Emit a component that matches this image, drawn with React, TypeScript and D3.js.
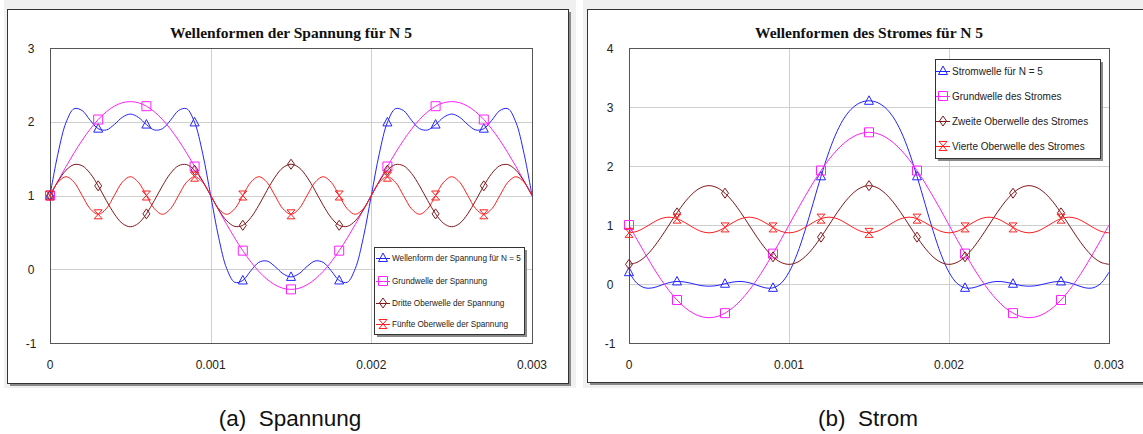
import * as d3 from 'd3';
import { useEffect, useRef } from 'react';

// sample spacing of the waveform tables (s) and how often a marker is drawn
const SAMPLE_STEP = 0.00005;
const MARKER_EVERY = 6;

const xTicks = [0, 0.001, 0.002, 0.003];
const xTickLabels = ['0', '0.001', '0.002', '0.003'];
const voltageYTicks = [-1, 0, 1, 2, 3];
const currentYTicks = [-1, 0, 1, 2, 3, 4];

// Spannung (voltage) waveforms
const voltageN5 = [
  1.000, 1.572, 1.991, 2.177, 2.152, 2.020, 1.906, 1.888, 1.962, 2.060, 2.104, 2.060, 1.962, 1.888, 1.906, 2.020, 2.152, 2.177, 1.991, 1.572, 1.000,
  0.428, 0.009, -0.177, -0.152, -0.020, 0.094, 0.112, 0.038, -0.060, -0.104, -0.060, 0.038, 0.112, 0.094, -0.020, -0.152, -0.177, 0.009, 0.428, 1.000,
  1.572, 1.991, 2.177, 2.152, 2.020, 1.906, 1.888, 1.962, 2.060, 2.104, 2.060, 1.962, 1.888, 1.906, 2.020, 2.152, 2.177, 1.991, 1.572, 1.000,
];
const voltageFund = [
  1.000, 1.199, 1.393, 1.578, 1.748, 1.900, 2.030, 2.134, 2.211, 2.258, 2.273, 2.258, 2.211, 2.134, 2.030, 1.900, 1.748, 1.578, 1.393, 1.199, 1.000,
  0.801, 0.607, 0.422, 0.252, 0.100, -0.030, -0.134, -0.211, -0.258, -0.273, -0.258, -0.211, -0.134, -0.030, 0.100, 0.252, 0.422, 0.607, 0.801, 1.000,
  1.199, 1.393, 1.578, 1.748, 1.900, 2.030, 2.134, 2.211, 2.258, 2.273, 2.258, 2.211, 2.134, 2.030, 1.900, 1.748, 1.578, 1.393, 1.199, 1.000,
];
const voltageThird = [
  1.000, 1.193, 1.343, 1.419, 1.404, 1.300, 1.131, 0.934, 0.751, 0.622, 0.576, 0.622, 0.751, 0.934, 1.131, 1.300, 1.404, 1.419, 1.343, 1.193, 1.000,
  0.807, 0.657, 0.581, 0.596, 0.700, 0.869, 1.066, 1.249, 1.378, 1.424, 1.378, 1.249, 1.066, 0.869, 0.700, 0.596, 0.581, 0.657, 0.807, 1.000,
  1.193, 1.343, 1.419, 1.404, 1.300, 1.131, 0.934, 0.751, 0.622, 0.576, 0.622, 0.751, 0.934, 1.131, 1.300, 1.404, 1.419, 1.343, 1.193, 1.000,
];
const voltageFifth = [
  1.000, 1.180, 1.255, 1.180, 1.000, 0.820, 0.745, 0.820,
  1.000, 1.180, 1.255, 1.180, 1.000, 0.820, 0.745, 0.820,
  1.000, 1.180, 1.255, 1.180, 1.000, 0.820, 0.745, 0.820,
  1.000, 1.180, 1.255, 1.180, 1.000, 0.820, 0.745, 0.820,
  1.000, 1.180, 1.255, 1.180, 1.000, 0.820, 0.745, 0.820,
  1.000, 1.180, 1.255, 1.180, 1.000, 0.820, 0.745, 0.820,
  1.000, 1.180, 1.255, 1.180, 1.000, 0.820, 0.745, 0.820,
  1.000, 1.180, 1.255, 1.180, 1.000,
];

// Strom (current) waveforms
const currentN5 = [
  0.200, 0.012, -0.065, -0.064, -0.021, 0.022, 0.043, 0.033, 0.004, -0.026, -0.037, -0.026, 0.004, 0.033, 0.043, 0.022, -0.021, -0.064, -0.065, 0.012, 0.200,
  0.504, 0.905, 1.362, 1.825, 2.244, 2.585, 2.833, 2.992, 3.078, 3.105, 3.078, 2.992, 2.833, 2.585, 2.244, 1.825, 1.362, 0.905, 0.504, 0.200,
  0.012, -0.065, -0.064, -0.021, 0.022, 0.043, 0.033, 0.004, -0.026, -0.037, -0.026, 0.004, 0.033, 0.043, 0.022, -0.021, -0.064, -0.065, 0.012, 0.200,
];
const currentFund = [
  1.000, 0.754, 0.515, 0.287, 0.077, -0.111, -0.271, -0.400, -0.494, -0.552, -0.571, -0.552, -0.494, -0.400, -0.271, -0.111, 0.077, 0.287, 0.515, 0.754, 1.000,
  1.246, 1.485, 1.713, 1.923, 2.111, 2.271, 2.400, 2.494, 2.552, 2.571, 2.552, 2.494, 2.400, 2.271, 2.111, 1.923, 1.713, 1.485, 1.246, 1.000,
  0.754, 0.515, 0.287, 0.077, -0.111, -0.271, -0.400, -0.494, -0.552, -0.571, -0.552, -0.494, -0.400, -0.271, -0.111, 0.077, 0.287, 0.515, 0.754, 1.000,
];
const currentSecond = [
  0.333, 0.366, 0.461, 0.608, 0.794, 1.000, 1.206, 1.392, 1.539, 1.634, 1.667, 1.634, 1.539, 1.392, 1.206, 1.000, 0.794, 0.608, 0.461, 0.366,
  0.333, 0.366, 0.461, 0.608, 0.794, 1.000, 1.206, 1.392, 1.539, 1.634, 1.667, 1.634, 1.539, 1.392, 1.206, 1.000, 0.794, 0.608, 0.461, 0.366,
  0.333, 0.366, 0.461, 0.608, 0.794, 1.000, 1.206, 1.392, 1.539, 1.634, 1.667, 1.634, 1.539, 1.392, 1.206, 1.000, 0.794, 0.608, 0.461, 0.366,
  0.333,
];
const currentFourth = [
  0.867, 0.892, 0.959, 1.041, 1.108, 1.133, 1.108, 1.041, 0.959, 0.892,
  0.867, 0.892, 0.959, 1.041, 1.108, 1.133, 1.108, 1.041, 0.959, 0.892,
  0.867, 0.892, 0.959, 1.041, 1.108, 1.133, 1.108, 1.041, 0.959, 0.892,
  0.867, 0.892, 0.959, 1.041, 1.108, 1.133, 1.108, 1.041, 0.959, 0.892,
  0.867, 0.892, 0.959, 1.041, 1.108, 1.133, 1.108, 1.041, 0.959, 0.892,
  0.867, 0.892, 0.959, 1.041, 1.108, 1.133, 1.108, 1.041, 0.959, 0.892,
  0.867,
];

const BLUE = '#2424ff';
const MAGENTA = '#ff22ff';
const BROWN = '#84181c';
const RED = '#ff2020';

const panels = [
  {
    title: 'Wellenformen der Spannung für N 5',
    caption: '(a)  Spannung',
    captionX: 290,
    bg: { x: 4, w: 572 },
    frame: { x: 7, y: 9, w: 561, h: 374 },
    plot: { x0: 50, x1: 532, y0: 48, y1: 343 },
    yTicks: voltageYTicks,
    legend: { x: 374, y: 247, w: 150, h: 87, rows: [258, 281, 303, 324], fontSize: 8.2, markerX: 9 },
    series: [
      { name: 'Wellenform der Spannung für N = 5', values: voltageN5, color: BLUE, marker: 'triangle' },
      { name: 'Grundwelle der Spannung', values: voltageFund, color: MAGENTA, marker: 'square' },
      { name: 'Dritte Oberwelle der Spannung', values: voltageThird, color: BROWN, marker: 'diamond' },
      { name: 'Fünfte Oberwelle der Spannung', values: voltageFifth, color: RED, marker: 'hourglass' },
    ],
  },
  {
    title: 'Wellenformen des Stromes für N 5',
    caption: '(b)  Strom',
    captionX: 868,
    bg: { x: 583, w: 570 },
    frame: { x: 587, y: 9, w: 570, h: 373 },
    plot: { x0: 629, x1: 1109, y0: 48, y1: 343 },
    yTicks: currentYTicks,
    legend: { x: 935, y: 59, w: 165, h: 99, rows: [71, 96, 121, 146], fontSize: 10, markerX: 8 },
    series: [
      { name: 'Stromwelle für N = 5', values: currentN5, color: BLUE, marker: 'triangle' },
      { name: 'Grundwelle des Stromes', values: currentFund, color: MAGENTA, marker: 'square' },
      { name: 'Zweite Oberwelle des Stromes', values: currentSecond, color: BROWN, marker: 'diamond' },
      { name: 'Vierte Oberwelle des Stromes', values: currentFourth, color: RED, marker: 'hourglass' },
    ],
  },
];

const markerPath = (type, cx, cy) => {
  const p = d3.path();
  if (type === 'triangle') {
    p.moveTo(cx, cy - 5); p.lineTo(cx + 4.5, cy + 3.5); p.lineTo(cx - 4.5, cy + 3.5); p.closePath();
  } else if (type === 'square') {
    p.rect(cx - 4.5, cy - 4.5, 9, 9);
  } else if (type === 'diamond') {
    p.moveTo(cx, cy - 5); p.lineTo(cx + 3.5, cy); p.lineTo(cx, cy + 5); p.lineTo(cx - 3.5, cy); p.closePath();
  } else {
    p.moveTo(cx - 4, cy - 4.5); p.lineTo(cx + 4, cy - 4.5); p.lineTo(cx - 4, cy + 4.5); p.lineTo(cx + 4, cy + 4.5); p.closePath();
  }
  return p.toString();
};

const drawPanel = (svg, cfg) => {
  const g = svg.append('g');
  const { frame, plot, legend } = cfg;

  g.append('rect').attr('x', cfg.bg.x).attr('y', 0).attr('width', cfg.bg.w).attr('height', 388).attr('fill', '#f0f0f0');
  g.append('rect').attr('x', frame.x + 3).attr('y', frame.y + 3).attr('width', frame.w).attr('height', frame.h).attr('fill', '#8a8a8a');
  g.append('rect').attr('x', frame.x + 0.5).attr('y', frame.y + 0.5).attr('width', frame.w).attr('height', frame.h)
    .attr('fill', '#fff').attr('stroke', '#333');

  const x = d3.scaleLinear().domain([0, 0.003]).range([plot.x0, plot.x1]);
  const y = d3.scaleLinear().domain(d3.extent(cfg.yTicks)).range([plot.y1, plot.y0]);

  // grid
  g.append('g').selectAll('line').data(cfg.yTicks.slice(1, -1)).enter().append('line')
    .attr('x1', plot.x0).attr('x2', plot.x1)
    .attr('y1', d => Math.round(y(d)) + 0.5).attr('y2', d => Math.round(y(d)) + 0.5)
    .attr('stroke', '#cfcfcf');
  g.append('g').selectAll('line').data(xTicks.slice(1, -1)).enter().append('line')
    .attr('y1', plot.y0).attr('y2', plot.y1)
    .attr('x1', d => Math.round(x(d)) + 0.5).attr('x2', d => Math.round(x(d)) + 0.5)
    .attr('stroke', '#cfcfcf');

  g.append('rect').attr('x', plot.x0 + 0.5).attr('y', plot.y0 + 0.5)
    .attr('width', plot.x1 - plot.x0).attr('height', plot.y1 - plot.y0)
    .attr('fill', 'none').attr('stroke', '#555');

  // tick labels
  g.append('g').selectAll('text').data(cfg.yTicks).enter().append('text')
    .attr('x', plot.x0 - 19).attr('y', d => y(d) + 4.5)
    .attr('text-anchor', 'middle')
    .style('font', '12px "Liberation Sans", Arial, sans-serif').attr('fill', '#222')
    .text(d => d);
  g.append('g').selectAll('text').data(xTicks).enter().append('text')
    .attr('x', d => x(d)).attr('y', plot.y1 + 26)
    .attr('text-anchor', 'middle')
    .style('font', '12px "Liberation Sans", Arial, sans-serif').attr('fill', '#222')
    .text((d, i) => xTickLabels[i]);

  g.append('text')
    .attr('x', (plot.x0 + plot.x1) / 2).attr('y', 38)
    .attr('text-anchor', 'middle')
    .style('font', 'bold 15.5px "Liberation Serif", "Times New Roman", serif')
    .attr('fill', '#111')
    .text(cfg.title);

  // series
  const line = d3.line()
    .x((d, i) => x(i * SAMPLE_STEP))
    .y(d => y(d))
    .curve(d3.curveCatmullRom);

  cfg.series.forEach(s => {
    g.append('path').attr('d', line(s.values))
      .attr('fill', 'none').attr('stroke', s.color).attr('stroke-width', 1);
    const pts = s.values.map((v, i) => ({ v, i })).filter(d => d.i % MARKER_EVERY === 0 && d.i < s.values.length - 1);
    g.append('g').selectAll('path').data(pts).enter().append('path')
      .attr('d', d => markerPath(s.marker, x(d.i * SAMPLE_STEP), y(d.v)))
      .attr('fill', 'none').attr('stroke', s.color).attr('stroke-width', 1);
  });

  // legend
  g.append('rect').attr('x', legend.x + 3).attr('y', legend.y + 3).attr('width', legend.w).attr('height', legend.h).attr('fill', '#8a8a8a');
  g.append('rect').attr('x', legend.x + 0.5).attr('y', legend.y + 0.5).attr('width', legend.w).attr('height', legend.h)
    .attr('fill', '#fff').attr('stroke', '#333');
  cfg.series.forEach((s, i) => {
    const ry = legend.rows[i];
    const mx = legend.x + legend.markerX;
    g.append('line').attr('x1', mx - 7).attr('x2', mx + 7).attr('y1', ry + 0.5).attr('y2', ry + 0.5).attr('stroke', s.color);
    g.append('path').attr('d', markerPath(s.marker, mx, ry)).attr('fill', 'none').attr('stroke', s.color);
    g.append('text').attr('x', mx + 9).attr('y', ry + legend.fontSize * 0.36)
      .style('font', `${legend.fontSize}px "Liberation Sans", Arial, sans-serif`).attr('fill', '#222')
      .text(s.name);
  });

  svg.append('text')
    .attr('x', cfg.captionX)
    .attr('y', 426)
    .attr('text-anchor', 'middle')
    .attr('xml:space', 'preserve')
    .style('white-space', 'pre')
    .style('font', '22.5px "Liberation Sans", Arial, sans-serif')
    .attr('fill', '#111')
    .text(cfg.caption);
};

export default function App() {
  const ref = useRef(null);

  useEffect(() => {
    const svg = d3.select(ref.current);
    svg.selectAll('*').remove();
    svg.append('rect').attr('width', 1143).attr('height', 434).attr('fill', '#fff');
    panels.forEach(p => drawPanel(svg, p));
    return () => { svg.selectAll('*').remove(); };
  }, []);

  return (
    <svg ref={ref} width={1143} height={434}
      style={{ position: 'absolute', left: 0, top: 0, display: 'block' }} />
  );
}
